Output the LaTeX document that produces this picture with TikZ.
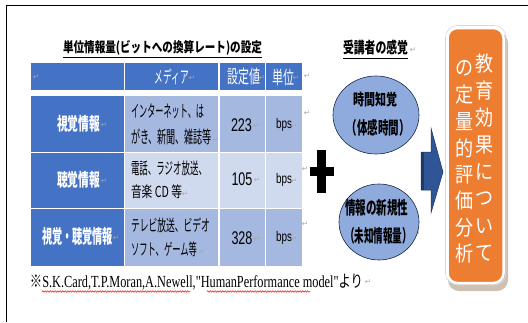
\documentclass[tikz,border=0pt]{standalone}
\usepackage{fontspec}
\usepackage{graphicx}
\usetikzlibrary{decorations.pathmorphing,shapes.geometric}
\newfontfamily\jp{Noto Sans CJK JP}
\newfontfamily\ser{Liberation Serif}
\newfontfamily\san{Liberation Sans}
\newfontfamily\sym{DejaVu Sans}
\newcommand\fitt[3]{\resizebox*{#1pt}{#2pt}{#3}}
\definecolor{dkblue}{HTML}{4472C4}
\definecolor{midblue}{HTML}{A5B8E0}
\definecolor{ltblue}{HTML}{D0DAEE}
\definecolor{ellblue}{HTML}{8FAADC}
\definecolor{arrblue}{HTML}{2F5597}
\definecolor{arrdark}{HTML}{1F3864}
\definecolor{orng}{HTML}{ED7D31}
\definecolor{retgray}{HTML}{A6A6A6}
\tikzset{
  txt/.style={inner sep=0pt, outer sep=0pt},
  wtxt/.style={txt, text=white},
  ret/.style={inner sep=0pt, text=retgray, font=\sym\fontsize{7.5}{7.5}\selectfont},
  vch/.style={inner sep=0pt, text=white, font=\jp\fontsize{21}{21}\selectfont},
}
\begin{document}
\begin{tikzpicture}[x=1pt,y=-1pt]
\useasboundingbox (0,0) rectangle (528,322);
\fill[white] (0,0) rectangle (528,322);
% frame
\draw[line width=1.8pt] (528,5.5) -- (6.5,5.5) -- (6.5,322);
% title
\node[txt] (title) at (162.5,48) {\fitt{199}{15}{\jp\bfseries 単位情報量(ビットへの換算レート)の設定}};
\draw[line width=0.9pt] (63,57.6) -- (262,57.6);
% table cells
\fill[dkblue] (31,63) rectangle (123.5,90);
\fill[dkblue] (125,63) rectangle (218,90);
\fill[dkblue] (219.5,63) rectangle (264.5,90);
\fill[dkblue] (266,63) rectangle (302,90);
\fill[dkblue] (31,96) rectangle (123.5,151.5);
\fill[midblue] (125,96) rectangle (218,151.5);
\fill[midblue] (219.5,96) rectangle (264.5,151.5);
\fill[midblue] (266,96) rectangle (302,151.5);
\fill[dkblue] (31,153) rectangle (123.5,207.5);
\fill[ltblue] (125,153) rectangle (218,207.5);
\fill[ltblue] (219.5,153) rectangle (264.5,207.5);
\fill[ltblue] (266,153) rectangle (302,207.5);
\fill[dkblue] (31,209) rectangle (123.5,266);
\fill[midblue] (125,209) rectangle (218,266);
\fill[midblue] (219.5,209) rectangle (264.5,266);
\fill[midblue] (266,209) rectangle (302,266);
% header texts
\node[wtxt] (h2) at (172,77) {\fitt{34}{16}{\jp メディア}};
\node[wtxt] (h3) at (243.5,77) {\fitt{33}{17}{\jp 設定値}};
\node[wtxt] (h4) at (283,77) {\fitt{22}{17}{\jp 単位}};
% column 1
\node[wtxt] (r1c1) at (78.5,124) {\fitt{43}{17}{\jp\bfseries 視覚情報}};
\node[wtxt] (r2c1) at (78.5,180) {\fitt{43}{17}{\jp\bfseries 聴覚情報}};
\node[wtxt] (r3c1) at (77.5,236) {\fitt{71}{18}{\jp\bfseries 視覚・聴覚情報}};
% column 2
\node[txt,anchor=west] (r1a) at (131,111) {\fitt{73}{15}{\jp インターネット、は}};
\node[txt,anchor=west] (r1b) at (131,137) {\fitt{81}{16}{\jp がき、新聞、雑誌等}};
\node[txt,anchor=west] (r2a) at (131,168) {\fitt{76}{15}{\jp 電話、ラジオ放送、}};
\node[txt,anchor=west] (r2b) at (131,192) {\fitt{51}{14}{\jp 音楽 CD 等}};
\node[txt,anchor=west] (r3a) at (131,225) {\fitt{79}{15}{\jp テレビ放送、ビデオ}};
\node[txt,anchor=west] (r3b) at (131,249) {\fitt{66}{15}{\jp ソフト、ゲーム等}};
% values
\node[txt] (v1) at (241.5,125) {\fitt{21}{13}{\san 223}};
\node[txt] (v2) at (242,179) {\fitt{21}{13}{\san 105}};
\node[txt] (v3) at (242,238) {\fitt{21}{13}{\san 328}};
\node[txt] (u1) at (284,125) {\fitt{16}{13}{\san bps}};
\node[txt] (u2) at (284,180) {\fitt{16}{13}{\san bps}};
\node[txt] (u3) at (284,238) {\fitt{16}{13}{\san bps}};
% return marks
\foreach \px/\py [count=\i] in {36/77,192/78,262/78,296/78,307/76,
  104/125,216/140,256/126,294/126,307/113,
  104/181,185/194,257/180,294/181,305/169,
  116/238,202/252,257/239,294/239,305/224,
  368/282,402/102,413/128,412/208,417/234,413/50}
  \node[ret] (ret\i) at (\px,\py) {↵};
% footnote
\node[txt,anchor=west] (foot) at (30,282) {\fitt{333}{16}{\jp ※\ser S.K.Card,T.P.Moran,A.Newell,"HumanPerformance model"\jp より}};
\draw[red,line width=0.5pt,decorate,decoration={snake,amplitude=0.7pt,segment length=2.5pt}] (42,291.5) -- (190,291.5);
\draw[red,line width=0.5pt,decorate,decoration={snake,amplitude=0.7pt,segment length=2.5pt}] (207,291.5) -- (310,291.5);
% plus
\fill[black] (317,150) rectangle (326,193);
\fill[black] (310,167) rectangle (334,176);
% right heading
\node[txt] (sub) at (375.5,48) {\fitt{65}{15}{\jp\bfseries 受講者の感覚}};
\draw[line width=0.9pt] (343,58) -- (408,58);
% ellipses
\node[ellipse,draw=arrdark!70!black,line width=0.6pt,fill=ellblue,minimum width=86pt,minimum height=78pt,inner sep=0pt] (e1) at (376,115) {};
\node[ellipse,draw=arrdark!70!black,line width=0.6pt,fill=ellblue,minimum width=80pt,minimum height=76pt,inner sep=0pt] (e2) at (379,222) {};
\node[txt] (e1a) at (375,100) {\fitt{44}{15}{\jp\bfseries 時間知覚}};
\node[txt] (e1b) at (378,128) {\fitt{63}{17}{\jp\bfseries （体感時間）}};
\node[txt] (e2a) at (376.5,208) {\fitt{63}{17}{\jp\bfseries 情報の新規性}};
\node[txt] (e2b) at (378.5,236) {\fitt{67}{17}{\jp\bfseries （未知情報量）}};
% arrow
\fill[arrblue] (421,152) -- (431,152) -- (431,128) -- (443,172) -- (431,213) -- (431,190) -- (421,190) -- cycle;
\fill[arrdark] (421,152) rectangle (424,190);
\draw[arrdark,line width=0.5pt] (421,152) -- (431,152) -- (431,128) -- (443,172) -- (431,213) -- (431,190) -- (421,190) -- cycle;
% orange box
\fill[black!40!brown,opacity=0.35,rounded corners=11pt] (448,32) rectangle (508,291);
\draw[black!15,line width=0.6pt,rounded corners=12pt] (445.5,25.5) rectangle (506,285);
\node[draw=white,line width=2.5pt,fill=orng,rounded corners=10pt,minimum width=56pt,minimum height=255pt,inner sep=0pt] (box) at (475.5,155.5) {};
\foreach \c [count=\i] in {教,育,効,果,に,つ,い,て}
  \node[vch] (rc\i) at (485,{37+\i*27}) {\scalebox{0.86}[1]{\c}};
\foreach \c [count=\i] in {の,定,量,的,評,価,分,析}
  \node[vch] (lc\i) at (465,{42+\i*26.5}) {\scalebox{0.86}[1]{\c}};
\end{tikzpicture}
\end{document}
